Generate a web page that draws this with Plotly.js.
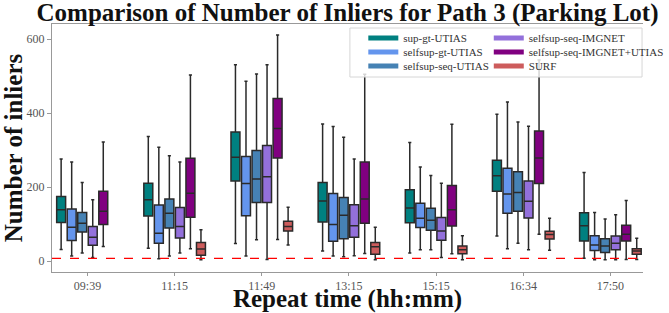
<!DOCTYPE html>
<html><head><meta charset="utf-8">
<script src="https://cdn.plot.ly/plotly-3.0.1.min.js"></script>
<style>html,body{margin:0;padding:0;background:#fff}#chart{width:669px;height:313px}</style>
</head><body><div id="chart"></div>
<script>
const categories = ["09:39","11:15","11:49","13:15","15:15","16:34","17:50"];
const surfCategories = ["11:15","11:49","13:15","15:15","16:34","17:50"];
const seriesNames = ["sup-gt-UTIAS","selfsup-gt-UTIAS","selfsup-seq-UTIAS","selfsup-seq-IMGNET","selfsup-seq-IMGNET+UTIAS","SURF"];
const seriesColors = ["#008080","#6495ED","#4682B4","#9370DB","#800080","#CD5C5C"];

const supGtLower  = [32, 35, 48, 28, 22, 68, 8];
const supGtQ1     = [105,122,217,106,104,189,55];
const supGtMedian = [139,166,281,163,144,231,96];
const supGtQ3     = [175,211,349,213,193,273,131];
const supGtUpper  = [276,337,531,371,321,397,240];

const selfGtLower  = [14, 7, 14, 14, 31, 34, 4];
const selfGtQ1     = [56, 49, 123,54, 91, 130,29];
const selfGtMedian = [92, 76, 210,99, 116,182,44];
const selfGtQ3     = [141,152,283,183,157,251,69];
const selfGtUpper  = [268,308,486,364,255,430,132];

const seqUtiasLower  = [22, 14, 58, 12, 31, 49, 4];
const seqUtiasQ1     = [79, 90, 159,61, 84, 135,24];
const seqUtiasMedian = [103,130,222,124,111,186,41];
const seqUtiasQ3     = [132,168,299,172,143,242,61];
const seqUtiasUpper  = [213,285,506,335,232,376,114];

const imgnetLower  = [10, 22, 5,  15, 10, 31, 4];
const imgnetQ1     = [43, 63, 159,65, 57, 117,31];
const imgnetMedian = [65, 94, 228,96, 82, 162,49];
const imgnetQ3     = [94, 145,313,153,118,217,68];
const imgnetUpper  = [166,268,531,276,211,365,126];

const imgUtiasLower  = [40, 34, 59, 21, 20, 73, 5];
const imgUtiasQ1     = [99, 119,279,103,95, 210,55];
const imgUtiasMedian = [135,184,359,168,139,279,73];
const imgUtiasQ3     = [189,278,440,268,205,352,97];
const imgUtiasUpper  = [322,503,611,505,370,544,164];

const surfLower  = [4, 44, 4, 4, 30, 5];
const surfQ1     = [16,82, 19,20,60, 19];
const surfMedian = [33,94, 39,31,72, 28];
const surfQ3     = [51,108,51,41,81, 34];
const surfUpper  = [85,146,92,69,116,62];

const thresholdValue = [8];
const yTicks = [0,200,400,600];

const stats = [
  [categories, supGtLower, supGtQ1, supGtMedian, supGtQ3, supGtUpper],
  [categories, selfGtLower, selfGtQ1, selfGtMedian, selfGtQ3, selfGtUpper],
  [categories, seqUtiasLower, seqUtiasQ1, seqUtiasMedian, seqUtiasQ3, seqUtiasUpper],
  [categories, imgnetLower, imgnetQ1, imgnetMedian, imgnetQ3, imgnetUpper],
  [categories, imgUtiasLower, imgUtiasQ1, imgUtiasMedian, imgUtiasQ3, imgUtiasUpper],
  [surfCategories, surfLower, surfQ1, surfMedian, surfQ3, surfUpper]
];

const SERIF = '"Liberation Serif", "DejaVu Serif", serif';
const traces = [];
stats.forEach((s, i) => {
  traces.push({
    type: 'box', name: seriesNames[i], x: s[0],
    lowerfence: s[1], q1: s[2], median: s[3], q3: s[4], upperfence: s[5],
    fillcolor: seriesColors[i], line: {color: '#2a2a2a', width: 1.5},
    whiskerwidth: 0.35, boxpoints: false, showlegend: false, hoverinfo: 'skip'
  });
});
// legend entries (line symbols), one legend per row for matplotlib-like spacing
const legendIds = ['legend','legend2','legend3','legend4','legend5','legend6'];
seriesNames.forEach((n, i) => {
  traces.push({
    type: 'scatter', mode: 'lines', name: n, x: [null], y: [null],
    line: {color: seriesColors[i], width: 5}, showlegend: true, legend: legendIds[i], hoverinfo: 'skip'
  });
});

const W = 669, H = 313, ml = 52, mr = 0, mt = 24, mb = 41;
const pw = W - ml - mr, ph = H - mt - mb;
const px2x = p => (p - ml) / pw;
const py2y = p => (H - mb - p) / ph;
const colX = [px2x(377), px2x(508)];
const rowY = [py2y(38), py2y(52), py2y(66)];

const legendFont = {family: SERIF, size: 11, color: '#333'};
const layout = {
  width: W, height: H,
  margin: {l: ml, r: mr, t: mt, b: mb, pad: 0},
  paper_bgcolor: '#fff', plot_bgcolor: '#fff',
  boxmode: 'group', boxgap: 0.275, boxgroupgap: 0.15,
  title: {text: '<b>Comparison of Number of Inliers for Path 3 (Parking Lot)</b>',
          font: {family: SERIF, size: 25, color: '#111'}, x: 0.5, xref: 'paper', xanchor: 'center',
          yref: 'container', y: 0.962, yanchor: 'middle'},
  xaxis: {
    type: 'category', categoryorder: 'array', categoryarray: categories,
    range: [-0.407, 6.374], showgrid: false, zeroline: false,
    showline: true, linecolor: '#999', linewidth: 1, mirror: true,
    ticks: 'outside', ticklen: 3, tickcolor: '#999',
    tickfont: {family: SERIF, size: 12, color: '#555'},
    title: {text: '<b>Repeat time (hh:mm)</b>', font: {family: SERIF, size: 25, color: '#111'}, standoff: 2},
    automargin: false
  },
  yaxis: {
    range: [-29, 641], tickvals: yTicks, showgrid: false, zeroline: false,
    showline: true, linecolor: '#999', linewidth: 1,
    ticks: 'outside', ticklen: 4, tickcolor: '#999',
    tickfont: {family: SERIF, size: 12, color: '#555'},
    title: {text: '<b>Number of inliers</b>', font: {family: SERIF, size: 25, color: '#111'}, standoff: 6},
    automargin: false
  },
  shapes: [
    {type: 'line', xref: 'paper', yref: 'y', x0: 0, x1: 1, y0: thresholdValue[0], y1: thresholdValue[0],
     line: {color: 'red', width: 1.2, dash: 'dash'}, layer: 'above'},
    {type: 'rect', xref: 'paper', yref: 'paper', x0: px2x(363), x1: px2x(668), y0: py2y(77), y1: py2y(28),
     fillcolor: 'rgba(255,255,255,0.8)', line: {color: '#d6d6d6', width: 1}, layer: 'above'}
  ],
  showlegend: true
};
legendIds.forEach((id, i) => {
  layout[id] = {
    x: colX[Math.floor(i / 3)], y: rowY[i % 3], xanchor: 'left', yanchor: 'middle',
    bgcolor: 'rgba(0,0,0,0)', borderwidth: 0, font: legendFont, itemwidth: 30
  };
});

Plotly.newPlot('chart', traces, layout, {displayModeBar: false, staticPlot: true});
</script>
</body></html>
